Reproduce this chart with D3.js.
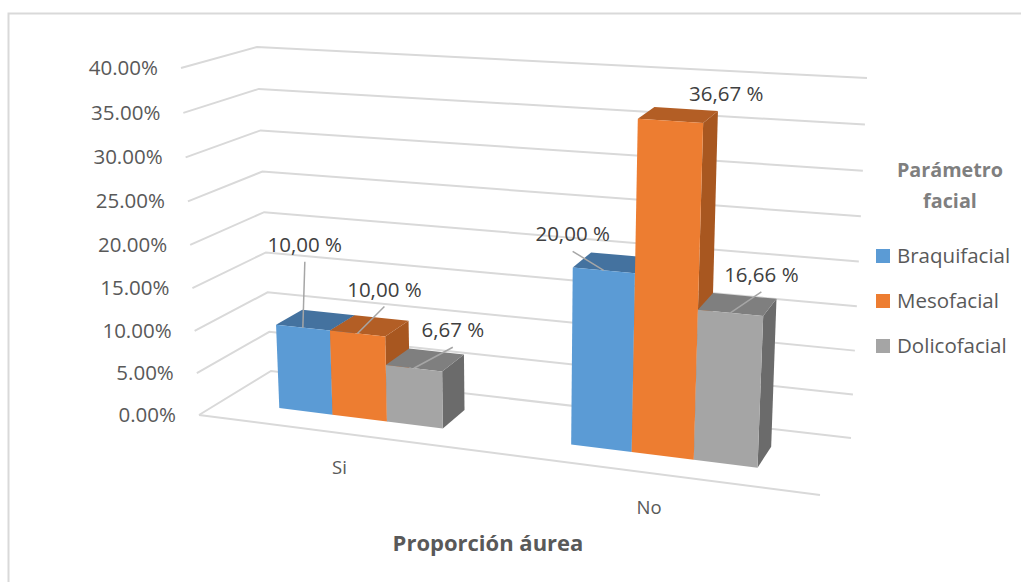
<!DOCTYPE html>
<html>
<head>
<meta charset="utf-8">
<script src="https://cdn.jsdelivr.net/npm/d3@7"></script>
<style>
  html, body { margin: 0; padding: 0; background: #fff; }
  text { font-family: "Open Sans", sans-serif; }
</style>
</head>
<body>
<div id="main"></div>
<script>
var categories = ["Si", "No"]
var seriesNames = ["Braquifacial", "Mesofacial", "Dolicofacial"]
var braquifacial = [10.00, 20.00]
var mesofacial = [10.00, 36.67]
var dolicofacial = [6.67, 16.66]
var tickValues = [0, 5, 10, 15, 20, 25, 30, 35, 40]

var seriesValues = [braquifacial, mesofacial, dolicofacial]
var faceColors = [
  { front: "#5b9bd5", top: "#44729f", side: "#3f6d99" },
  { front: "#ed7d31", top: "#b35e25", side: "#a85720" },
  { front: "#a5a5a5", top: "#7f7f7f", side: "#6b6b6b" }
]

// the box corners on screen: f/b = front/back, l/r = left/right, 0/1 = floor/top
var box = {
  fl0: [199, 415], fl1: [181, 68],
  bl0: [271, 371], bl1: [257, 47],
  fr0: [820, 495], fr1: [839, 110],
  br0: [851, 438], br1: [867, 78]
}

// perspective stretch, same idea for width and height
function warp(t, r) { return t / (t + (1 - t) * r) }
function lerp(a, b, t) { return a + (b - a) * t }

var yScale = d3.scaleLinear().domain([0, 40]).range([0, 1])
var catScale = d3.scaleBand().domain(categories).range([0, 1]).paddingInner(0.424).paddingOuter(0.212)
var barScale = d3.scaleBand().domain(d3.range(seriesNames.length)).range([0, catScale.bandwidth()])
var barFront = 0.32, barBack = 0.7

// u along the categories, v into the depth, val on the value axis
function project(u, v, val) {
  var a = warp(u, 1.14), c = warp(yScale(val), 1.04)
  return [0, 1].map(i => {
    var bottom = lerp(lerp(box.fl0[i], box.fr0[i], a), lerp(box.bl0[i], box.br0[i], a), v)
    var top = lerp(lerp(box.fl1[i], box.fr1[i], a), lerp(box.bl1[i], box.br1[i], a), v)
    return lerp(bottom, top, c)
  })
}

var svg = d3.select("#main").append("svg").attr("width", 1021).attr("height", 582).style("display", "block")

// chart border, only top and left are in the frame
svg.append("path").attr("d", "M8.5,582V13.5H1021").attr("fill", "none").attr("stroke", "#d9d9d9").attr("stroke-width", 2)

var line = d3.line()
svg.selectAll(".grid")
  .data(tickValues)
  .enter()
  .append("path")
  .attr("class", "grid")
  .attr("d", d => line([project(0, 0, d), project(0, 1, d), project(1, 1, d)]))
  .attr("fill", "none")
  .attr("stroke", "#d9d9d9")
  .attr("stroke-width", 2)

svg.append("path")
  .attr("d", line([project(0, 0, 0), project(1, 0, 0)]))
  .attr("fill", "none")
  .attr("stroke", "#d9d9d9")
  .attr("stroke-width", 2)

svg.selectAll(".tick")
  .data(tickValues)
  .enter()
  .append("text")
  .attr("class", "tick")
  .attr("x", d => project(0, 0, d)[0] - 23)
  .attr("y", d => project(0, 0, d)[1] + 7)
  .attr("text-anchor", "end")
  .attr("font-size", 20.5)
  .attr("fill", "#595959")
  .text(d => d.toFixed(2) + "%")

function poly(points) { return points.join(" ") }

var bars = []
categories.forEach((cat, c) => {
  seriesNames.forEach((name, s) => {
    var u0 = catScale(cat) + barScale(s)
    bars.push({ u0: u0, u1: u0 + barScale.bandwidth(), val: seriesValues[s][c], s: s, c: c })
  })
})

var barG = svg.selectAll(".bar").data(bars).enter().append("g").attr("class", "bar")
barG.append("polygon")
  .attr("points", d => poly([project(d.u1, barFront, 0), project(d.u1, barBack, 0), project(d.u1, barBack, d.val), project(d.u1, barFront, d.val)]))
  .attr("fill", d => faceColors[d.s].side)
barG.append("polygon")
  .attr("points", d => poly([project(d.u0, barFront, d.val), project(d.u1, barFront, d.val), project(d.u1, barBack, d.val), project(d.u0, barBack, d.val)]))
  .attr("fill", d => faceColors[d.s].top)
barG.append("polygon")
  .attr("points", d => poly([project(d.u0, barFront, 0), project(d.u1, barFront, 0), project(d.u1, barFront, d.val), project(d.u0, barFront, d.val)]))
  .attr("fill", d => faceColors[d.s].front)

// where each label sits, relative to the middle of the bar's top front edge
var labelOffset = [[2, -83], [27, -44], [39, -38], [-31, -36], [56, -27], [31, -38]]

function barAnchor(d) { return project((d.u0 + d.u1) / 2, barFront, d.val) }

var labels = svg.selectAll(".lab").data(bars).enter().append("g").attr("class", "lab")
labels.filter((d, i) => i !== 4).append("line")
  .attr("x1", d => barAnchor(d)[0])
  .attr("y1", d => barAnchor(d)[1])
  .attr("x2", d => barAnchor(d)[0] + labelOffset[bars.indexOf(d)][0])
  .attr("y2", d => barAnchor(d)[1] + labelOffset[bars.indexOf(d)][1] + 17)
  .attr("stroke", "#a6a6a6")
  .attr("stroke-width", 1.5)
labels.append("text")
  .attr("x", (d, i) => barAnchor(d)[0] + labelOffset[i][0])
  .attr("y", (d, i) => barAnchor(d)[1] + labelOffset[i][1] + 7)
  .attr("text-anchor", "middle")
  .attr("font-size", 20.5)
  .attr("fill", "#404040")
  .text(d => d.val.toFixed(2).replace(".", ",") + " %")

svg.selectAll(".cat")
  .data(categories)
  .enter()
  .append("text")
  .attr("class", "cat")
  .attr("x", d => project(catScale(d) + catScale.bandwidth() / 2, 0, 0)[0])
  .attr("y", d => project(catScale(d) + catScale.bandwidth() / 2, 0, 0)[1] + 41)
  .attr("text-anchor", "middle")
  .attr("font-size", 18.5)
  .attr("fill", "#595959")
  .text(d => d)

svg.append("text").attr("x", 488).attr("y", 551).attr("text-anchor", "middle")
  .attr("font-size", 22).attr("font-weight", "bold").attr("fill", "#595959").text("Proporción áurea")

svg.selectAll(".ltitle")
  .data(["Parámetro", "facial"])
  .enter()
  .append("text")
  .attr("class", "ltitle")
  .attr("x", 950)
  .attr("y", (d, i) => 177 + i * 31)
  .attr("text-anchor", "middle")
  .attr("font-size", 19.8)
  .attr("font-weight", "bold")
  .attr("fill", "#7f7f7f")
  .text(d => d)

var legend = svg.selectAll(".legend").data(seriesNames).enter().append("g").attr("class", "legend")
  .attr("transform", (d, i) => `translate(876,${249 + i * 45})`)
legend.append("rect").attr("width", 14).attr("height", 14).attr("fill", (d, i) => faceColors[i].front)
legend.append("text").attr("x", 21).attr("y", 14).attr("font-size", 20.5).attr("fill", "#595959").text(d => d)
</script>
</body>
</html>
